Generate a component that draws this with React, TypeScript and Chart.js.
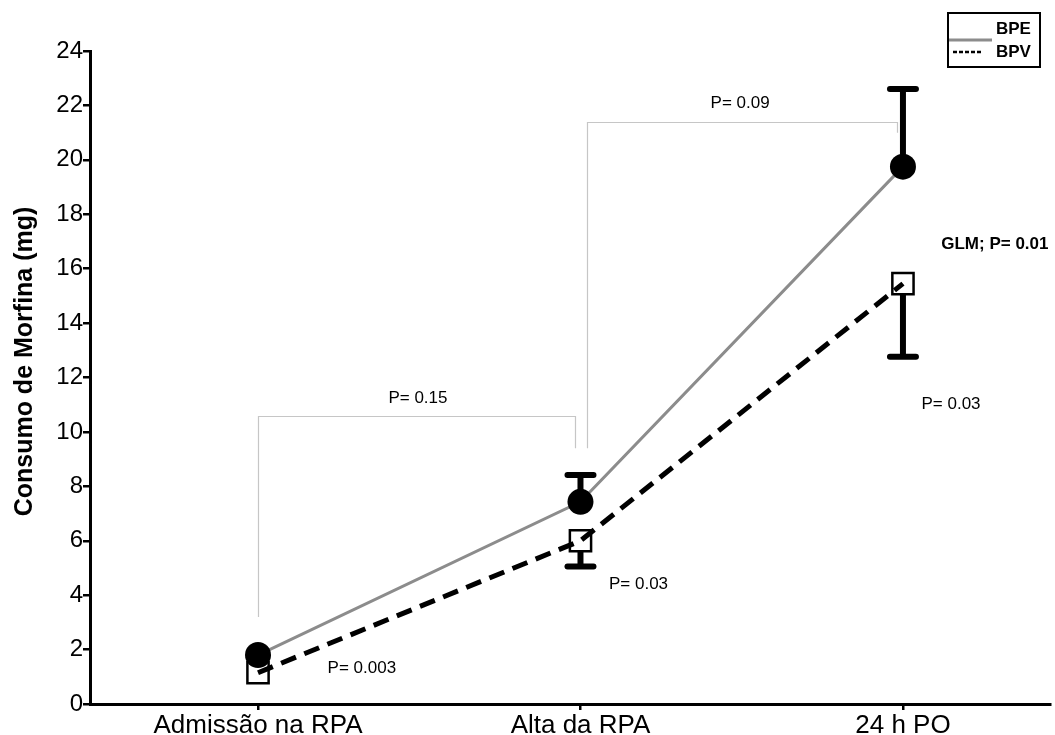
import React, { useEffect, useRef } from 'react';
import { Chart, registerables } from 'chart.js';

Chart.register(...registerables);

// ---- data ----
const categories = ['Admissão na RPA', 'Alta da RPA', '24 h PO'];
const categoryIndex = [0, 1, 2];
const yTickValues = [0, 2, 4, 6, 8, 10, 12, 14, 16, 18, 20, 22, 24];
const yTitle = 'Consumo de Morfina (mg)';

const bpeMean = [1.8, 7.43, 19.75];
const bpeErr = [0.1, 0.99, 2.85];
const bpvMean = [1.15, 6.0, 15.45];
const bpvErr = [0.15, 0.95, 2.69];

const bracketX1 = [0, 1.02];
const bracketX2 = [0.983, 1.981];
const bracketTop = [10.6, 21.4];
const bracketLeftBottom = [3.2, 9.4];
const bracketRightBottom = [9.4, 21.0];

const pTexts = ['P= 0.15', 'P= 0.09', 'P= 0.003', 'P= 0.03', 'P= 0.03'];
const pTextX = [0.496, 1.495, 0.322, 1.18, 2.149];
const pTextY = [11.25, 22.06, 1.32, 4.41, 11.0];

const glmText = 'GLM; P= 0.01';
const glmX = 2.285;
const glmY = 16.88;

const FONT = '"Liberation Sans", Arial, Helvetica, sans-serif';

const overlayPlugin = {
  id: 'overlay',
  beforeDatasetsDraw(chart: any) {
    const { ctx, scales } = chart;
    const x = scales.x;
    const y = scales.y;
    ctx.save();
    ctx.strokeStyle = '#c6c6c6';
    ctx.lineWidth = 1.2;
    for (let i = 0; i < bracketX1.length; i++) {
      const xa = Math.round(x.getPixelForValue(bracketX1[i])) + 0.5;
      const xb = Math.round(x.getPixelForValue(bracketX2[i])) + 0.5;
      const yt = Math.round(y.getPixelForValue(bracketTop[i])) + 0.5;
      ctx.beginPath();
      ctx.moveTo(xa, y.getPixelForValue(bracketLeftBottom[i]));
      ctx.lineTo(xa, yt);
      ctx.lineTo(xb, yt);
      ctx.lineTo(xb, y.getPixelForValue(bracketRightBottom[i]));
      ctx.stroke();
    }
    ctx.fillStyle = '#000';
    ctx.textAlign = 'center';
    ctx.textBaseline = 'middle';
    ctx.font = `17px ${FONT}`;
    for (let i = 0; i < pTexts.length; i++) {
      ctx.fillText(pTexts[i], x.getPixelForValue(pTextX[i]), y.getPixelForValue(pTextY[i]));
    }
    ctx.font = `bold 17px ${FONT}`;
    ctx.fillText(glmText, x.getPixelForValue(glmX), y.getPixelForValue(glmY));
    ctx.restore();
  },
  afterDatasetsDraw(chart: any) {
    const { ctx, scales } = chart;
    const x = scales.x;
    const y = scales.y;
    ctx.save();
    ctx.strokeStyle = '#000';
    ctx.lineWidth = 6;
    const cap = 13;
    const drawBar = (xi: number, from: number, to: number, gap: number) => {
      const px = x.getPixelForValue(xi);
      const p0 = y.getPixelForValue(from);
      const p1 = y.getPixelForValue(to);
      const dir = p1 < p0 ? -1 : 1;
      if (Math.abs(p1 - p0) <= gap) return;
      ctx.lineCap = 'butt';
      ctx.beginPath();
      ctx.moveTo(px, p0 + dir * gap);
      ctx.lineTo(px, p1);
      ctx.stroke();
      ctx.lineCap = 'round';
      ctx.beginPath();
      ctx.moveTo(px - cap, p1);
      ctx.lineTo(px + cap, p1);
      ctx.stroke();
    };
    for (let i = 0; i < categoryIndex.length; i++) {
      drawBar(categoryIndex[i], bpeMean[i], bpeMean[i] + bpeErr[i], 12);
      drawBar(categoryIndex[i], bpvMean[i], bpvMean[i] - bpvErr[i], 11);
    }
    ctx.restore();
  },
  afterDraw(chart: any) {
    const { ctx, scales } = chart;
    ctx.save();
    // y-axis title
    const y = scales.y;
    ctx.fillStyle = '#000';
    ctx.font = `bold 25px ${FONT}`;
    ctx.textAlign = 'center';
    ctx.textBaseline = 'middle';
    ctx.translate(25, (y.top + y.bottom) / 2 - 16);
    ctx.rotate(-Math.PI / 2);
    ctx.fillText(yTitle, 0, 0);
    ctx.setTransform(1, 0, 0, 1, 0, 0);
    // legend box
    ctx.strokeStyle = '#000';
    ctx.lineWidth = 2;
    ctx.strokeRect(948, 13, 92, 54);
    ctx.strokeStyle = '#8c8c8c';
    ctx.lineWidth = 3;
    ctx.beginPath();
    ctx.moveTo(949, 40);
    ctx.lineTo(992, 40);
    ctx.stroke();
    ctx.strokeStyle = '#000';
    ctx.lineWidth = 2.5;
    ctx.setLineDash([4, 2]);
    ctx.beginPath();
    ctx.moveTo(953, 52);
    ctx.lineTo(982, 52);
    ctx.stroke();
    ctx.setLineDash([]);
    ctx.fillStyle = '#000';
    ctx.font = `bold 17px ${FONT}`;
    ctx.textAlign = 'left';
    ctx.textBaseline = 'middle';
    ctx.fillText('BPE', 996, 29);
    ctx.fillText('BPV', 996, 52);
    ctx.restore();
  },
};

export default function App() {
  const canvasRef = useRef<HTMLCanvasElement | null>(null);

  useEffect(() => {
    if (!canvasRef.current) return;
    const chart = new Chart(canvasRef.current, {
      type: 'line',
      data: {
        datasets: [
          {
            label: 'BPE',
            data: categoryIndex.map((c, i) => ({ x: c, y: bpeMean[i] })),
            borderColor: '#8c8c8c',
            borderWidth: 3,
            pointStyle: 'circle',
            pointRadius: 13,
            pointBackgroundColor: '#000',
            pointBorderColor: '#000',
            pointBorderWidth: 0,
            tension: 0,
          },
          {
            label: 'BPV',
            data: categoryIndex.map((c, i) => ({ x: c, y: bpvMean[i] })),
            borderColor: '#000',
            borderWidth: 5,
            borderDash: [16, 9],
            pointStyle: 'rect',
            pointRadius: 15,
            pointBackgroundColor: 'rgba(0,0,0,0)',
            pointBorderColor: '#000',
            pointBorderWidth: 2.5,
            tension: 0,
          },
        ],
      },
      options: {
        responsive: false,
        animation: false,
        events: [],
        layout: { autoPadding: false, padding: { left: 0, top: 51, right: 5, bottom: 0 } },
        plugins: {
          legend: { display: false },
          tooltip: { enabled: false },
        },
        scales: {
          x: {
            type: 'linear',
            min: -0.521,
            max: 2.456,
            afterBuildTicks: (scale: any) => {
              scale.ticks = categoryIndex.map((v) => ({ value: v }));
            },
            afterFit: (scale: any) => {
              scale.height = 31;
              scale.paddingLeft = 0;
              scale.paddingRight = 0;
            },
            ticks: {
              autoSkip: false,
              maxRotation: 0,
              padding: 0,
              color: '#000',
              font: { size: 26, family: FONT },
              callback: (v: any) => categories[v as number] ?? '',
            },
            grid: {
              drawOnChartArea: false,
              drawTicks: true,
              tickLength: 6,
              color: '#000',
              lineWidth: 2.5,
            },
            border: { display: true, color: '#000', width: 3 },
          },
          y: {
            min: 0,
            max: 24,
            afterBuildTicks: (scale: any) => {
              scale.ticks = yTickValues.map((v) => ({ value: v }));
            },
            afterFit: (scale: any) => {
              scale.width = 90;
              scale.paddingTop = 0;
              scale.paddingBottom = 0;
            },
            ticks: {
              padding: 0,
              color: '#000',
              font: { size: 24, family: FONT },
            },
            grid: {
              drawOnChartArea: false,
              drawTicks: true,
              tickLength: 7,
              color: '#000',
              lineWidth: 2.5,
            },
            border: { display: true, color: '#000', width: 3 },
          },
        },
      },
      plugins: [overlayPlugin],
    } as any);
    return () => chart.destroy();
  }, []);

  return (
    <div style={{ position: 'absolute', left: 0, top: 0, width: 1055, height: 735, background: '#fff' }}>
      <canvas ref={canvasRef} width={1055} height={735} style={{ display: 'block' }} />
    </div>
  );
}
